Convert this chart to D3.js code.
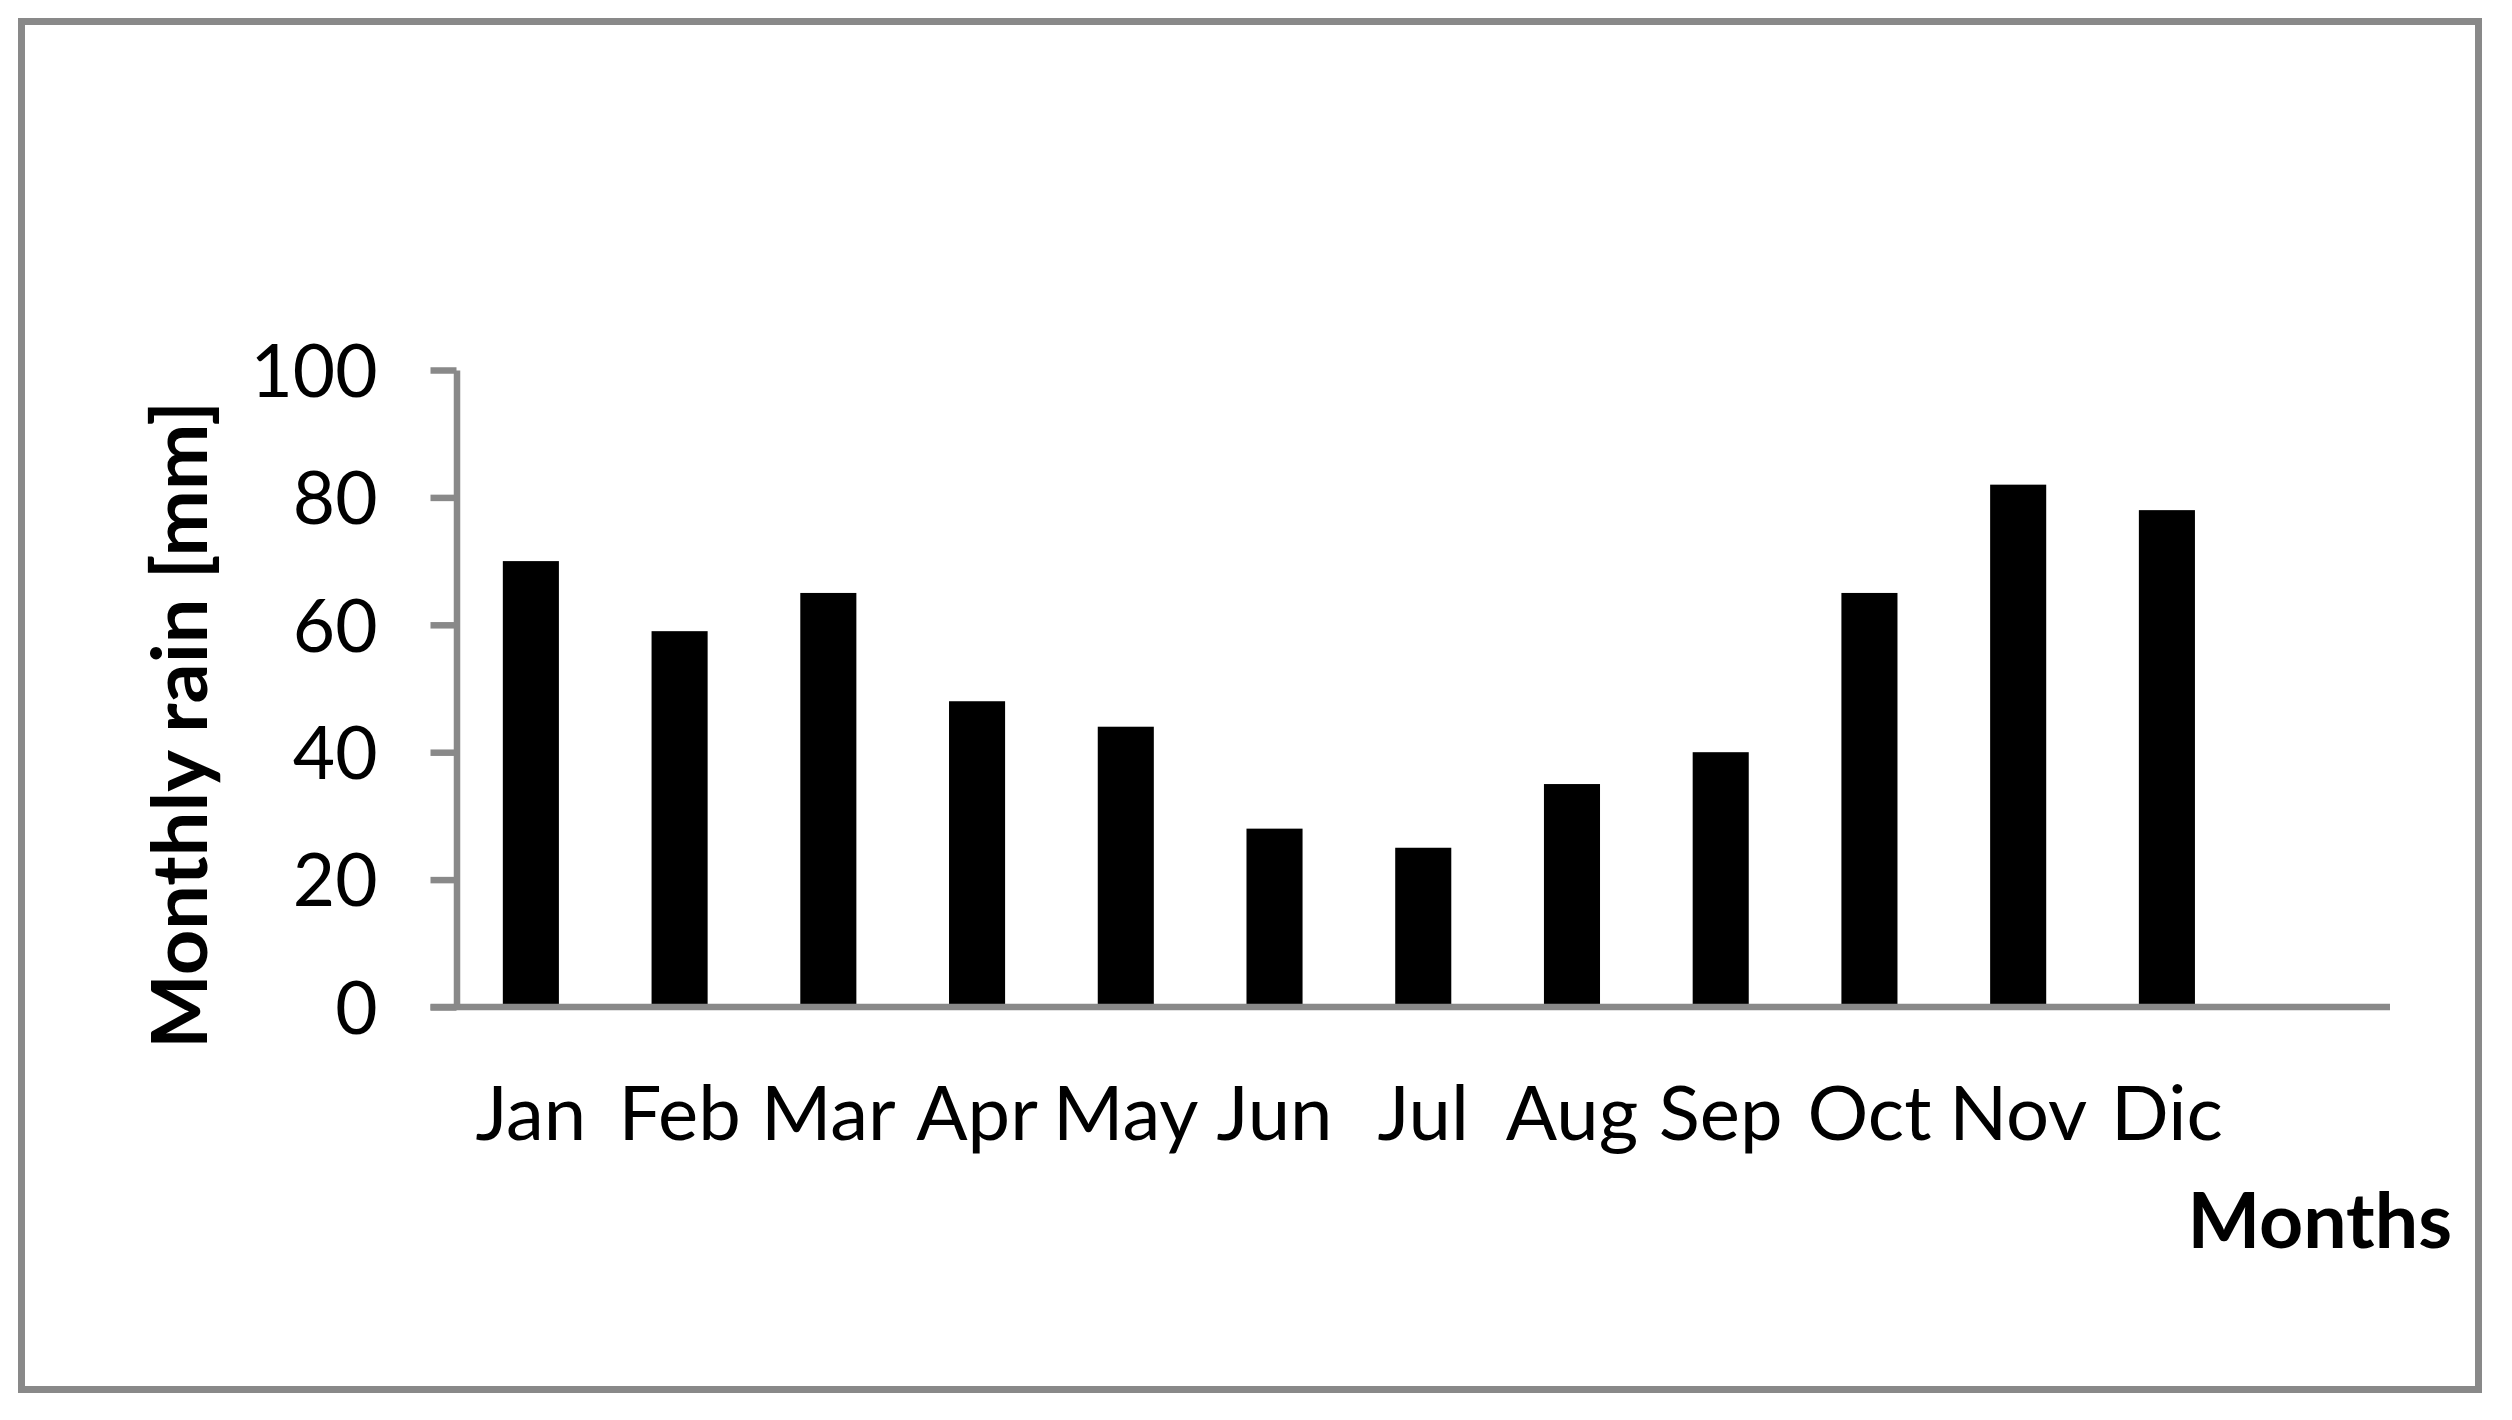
<!DOCTYPE html>
<html>
<head>
<meta charset="utf-8">
<script src="https://cdn.jsdelivr.net/npm/d3@7"></script>
<style>
  html, body { margin: 0; padding: 0; background: #fff; }
  svg { display: block; }
</style>
</head>
<body>
<script>
// ---- data ----
const months = ["Jan", "Feb", "Mar", "Apr", "May", "Jun", "Jul", "Aug", "Sep", "Oct", "Nov", "Dic"];
const rain = [70, 59, 65, 48, 44, 28, 25, 35, 40, 65, 82, 78];
const yTicks = [0, 20, 40, 60, 80, 100];
const yTitle = "Monthly rain [mm]";
const xTitle = "Months";

// ---- layout ----
const W = 2512, H = 1420;
const axisColor = "#898989";
const font = "Lato, 'Open Sans', sans-serif";
const x0 = 456.5, xEnd = 2390;
const slots = months.length + 1; // chart reserves one empty category slot on the right
const step = (xEnd - x0) / slots;

const svg = d3.select("body").append("svg").attr("width", W).attr("height", H);

// outer frame
svg.append("rect")
  .attr("x", 21.5).attr("y", 21.5)
  .attr("width", 2457).attr("height", 1368)
  .attr("fill", "#fff").attr("stroke", axisColor).attr("stroke-width", 7);

const x = d3.scaleBand()
  .domain(months)
  .range([x0, x0 + step * months.length])
  .paddingInner(0.623)
  .paddingOuter(0.3115);

const y = d3.scaleLinear().domain([0, 100]).range([1007, 370]);

// bars
svg.append("g").selectAll("rect")
  .data(months)
  .join("rect")
  .attr("x", d => x(d))
  .attr("width", x.bandwidth())
  .attr("y", (d, i) => y(rain[i]))
  .attr("height", (d, i) => y(0) - y(rain[i]))
  .attr("fill", "#000");

// x axis line
svg.append("line")
  .attr("x1", x0 - 26).attr("x2", xEnd)
  .attr("y1", y(0)).attr("y2", y(0))
  .attr("stroke", axisColor).attr("stroke-width", 6.5);

// y axis
const yAxis = svg.append("g")
  .attr("transform", `translate(${x0},0)`)
  .call(d3.axisLeft(y).tickValues(yTicks).tickSize(26).tickSizeOuter(0).tickPadding(53));
yAxis.select(".domain").attr("stroke", axisColor).attr("stroke-width", 6.5);
yAxis.selectAll(".tick line").attr("stroke", axisColor).attr("stroke-width", 6.5);
yAxis.selectAll(".tick text")
  .attr("fill", "#000")
  .attr("font-family", font)
  .attr("font-size", 73)
  .attr("dy", "0.36em");
yAxis.attr("font-family", null).attr("font-size", null);

// x axis labels
const xAxis = svg.append("g")
  .attr("transform", `translate(0,${y(0)})`)
  .call(d3.axisBottom(x).tickSize(0).tickPadding(0));
xAxis.select(".domain").remove();
xAxis.attr("font-family", null).attr("font-size", null);
xAxis.selectAll(".tick text")
  .attr("fill", "#000")
  .attr("font-family", font)
  .attr("font-size", 76)
  .attr("y", 133)
  .attr("dy", 0);

// axis titles
svg.append("text")
  .attr("transform", "translate(207,725) rotate(-90)")
  .attr("text-anchor", "middle")
  .attr("font-family", font)
  .attr("font-weight", "bold")
  .attr("font-size", 77)
  .attr("textLength", 648)
  .attr("lengthAdjust", "spacingAndGlyphs")
  .attr("fill", "#000")
  .text(yTitle);

svg.append("text")
  .attr("x", 2452).attr("y", 1248)
  .attr("text-anchor", "end")
  .attr("font-family", font)
  .attr("font-weight", "bold")
  .attr("font-size", 77)
  .attr("fill", "#000")
  .text(xTitle);
</script>
</body>
</html>
